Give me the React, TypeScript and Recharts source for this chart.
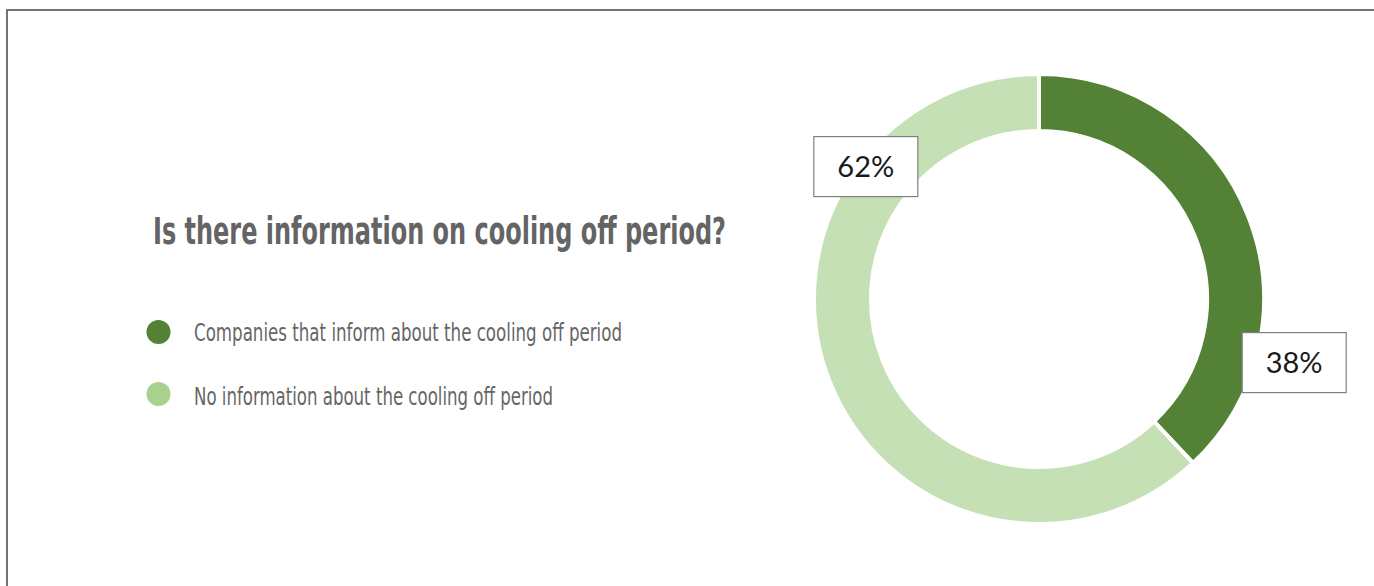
import { PieChart, Pie, Cell, Legend } from 'recharts'

const categories = ['Companies that inform about the cooling off period', 'No information about the cooling off period']
const shares = [38, 62]
const labels = ['38%', '62%']
const title = 'Is there information on cooling off period?'

const ringColors = ['#538135', '#c5e0b4']
const dotColors = ['#538135', '#a9d18e']

const data = categories.map((name, i) => ({ name, value: shares[i] }))

// where each box sits, relative to the ring center (clockwise degrees from 12 o'clock, distance)
const boxPlace = [
  { deg: 104, dist: 263 },
  { deg: 307.4, dist: 218 },
]
const legendWidths = [428, 359]

function BoxLabel(props: any) {
  const { cx, cy, index } = props
  const p = boxPlace[index]
  const rad = (p.deg * Math.PI) / 180
  const x = cx + p.dist * Math.sin(rad)
  const y = cy - p.dist * Math.cos(rad)
  const w = 104
  const h = 60
  return (
    <g>
      <rect x={x - w / 2} y={y - h / 2} width={w} height={h} fill="#fff" stroke="#808080" strokeWidth={1.2} />
      <text x={x} y={y} dy={10} textAnchor="middle" fontFamily="Lato, 'Open Sans', sans-serif" fontWeight={400} fontSize={29} fill="#1a1a1a">
        {labels[index]}
      </text>
    </g>
  )
}

function LegendBlock(props: any) {
  const payload = props.payload || []
  const font = "'Liberation Sans Narrow', 'DejaVu Sans Condensed', sans-serif"
  return (
    <svg width={760} height={260} style={{ overflow: 'visible' }}>
      <text x={153} y={44} fontFamily={font} fontWeight="bold" fontSize={37} fill="#646464"
        textLength={573} lengthAdjust="spacingAndGlyphs">{title}</text>
      {categories.map((name, i) => {
        const entry = payload.find((p: any) => p.value === name)
        return (
          <g key={name}>
            <circle cx={158.5} cy={132 + i * 62} r={12} fill={dotColors[i]} />
            <text x={194} y={141 + i * 64} fontFamily={font} fontSize={24} fill="#666"
              textLength={legendWidths[i]} lengthAdjust="spacingAndGlyphs">{entry ? entry.value : name}</text>
          </g>
        )
      })}
    </svg>
  )
}

export default function App() {
  return (
    <div style={{ position: 'relative', width: 1374, height: 586, background: '#fff', overflow: 'hidden' }}>
      <style>{'body{margin:0}'}</style>
      <div style={{ position: 'absolute', left: 6, top: 9, right: -4, bottom: -4, borderTop: '2px solid #737373', borderLeft: '2px solid #737373' }} />
      <PieChart width={1374} height={586} margin={{ top: 0, right: 0, bottom: 0, left: 0 }} style={{ position: 'absolute', left: 0, top: 0 }}>
        <Pie
          data={data}
          dataKey="value"
          nameKey="name"
          cx={1039}
          cy={299}
          innerRadius={168}
          outerRadius={225}
          startAngle={90}
          endAngle={-270}
          stroke="#fff"
          strokeWidth={4}
          label={BoxLabel}
          labelLine={false}
          isAnimationActive={false}
        >
          {data.map((d, i) => (
            <Cell key={d.name} fill={ringColors[i]} />
          ))}
        </Pie>
        <Legend content={LegendBlock} wrapperStyle={{ position: 'absolute', left: 0, top: 200, width: 760, height: 260 }} />
      </PieChart>
    </div>
  )
}
